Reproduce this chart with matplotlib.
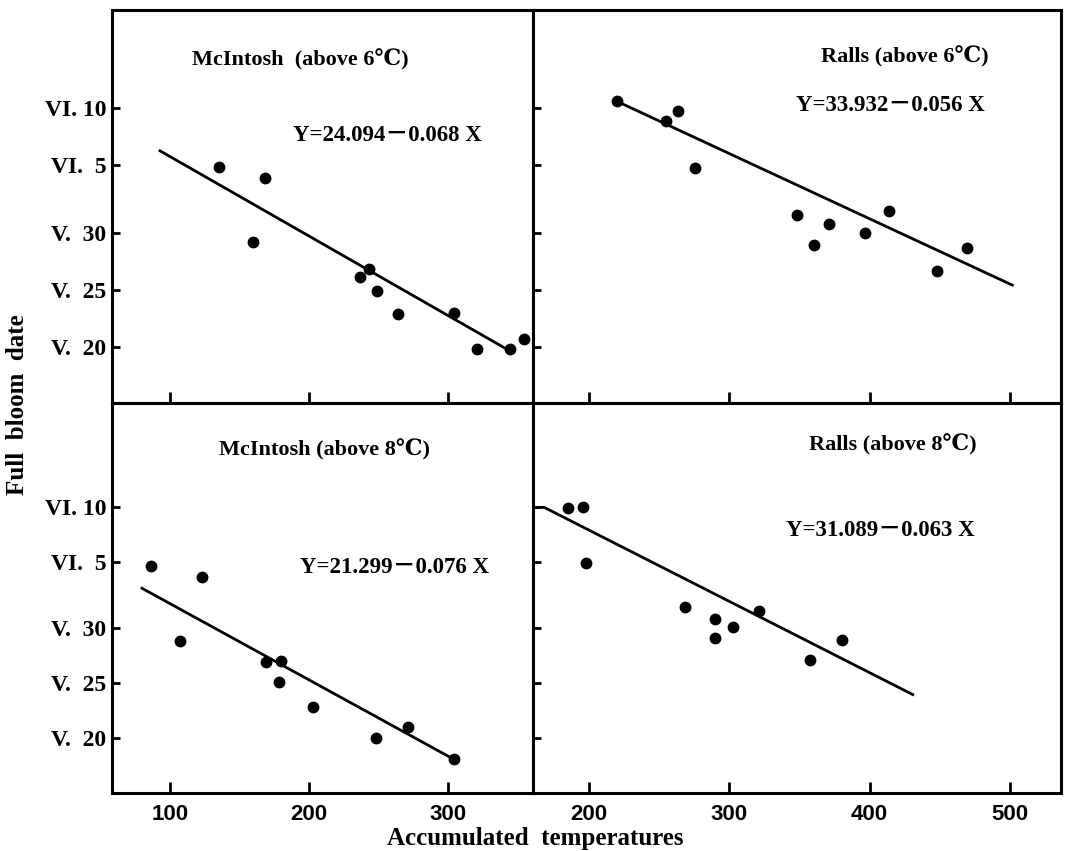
import matplotlib
matplotlib.use("Agg")
import matplotlib.pyplot as plt

# === Data (x: accumulated temperatures, y: day counted from May 1; VI.5 = 36) ===
mc6_x = [135, 168.5, 159.6, 236.5, 242.9, 248.8, 264.3, 304.4, 320.7, 344.3, 354.2]
mc6_y = [35.8, 34.85, 29.2, 26.2, 26.9, 24.9, 22.9, 23.0, 19.8, 19.8, 20.7]
mc6_line_x = [92, 344]
mc6_line_y = [37.3, 19.7]

ra6_x = [219.6, 255.1, 263.2, 275.5, 348.3, 360.5, 370.8, 396.6, 413.7, 448, 469.6]
ra6_y = [41.6, 39.9, 40.7, 35.7, 31.6, 29.0, 30.8, 30.0, 32.0, 26.7, 28.7]
ra6_line_x = [219.6, 502.7]
ra6_line_y = [41.6, 25.4]

mc8_x = [86.5, 123.4, 106.9, 169.4, 180, 178.7, 202.8, 247.8, 271, 304.2]
mc8_y = [35.7, 34.7, 28.8, 26.9, 27.0, 25.1, 22.8, 20.0, 21.0, 18.1]
mc8_line_x = [79, 305]
mc8_line_y = [33.7, 18.0]

ra8_x = [184.9, 195.9, 197.6, 268.3, 289.5, 289.8, 302.7, 321.5, 357.3, 380]
ra8_y = [40.95, 41.0, 35.9, 31.9, 30.8, 29.1, 30.1, 31.6, 27.1, 28.9]
ra8_line_x = [160, 168, 431.7]
ra8_line_y = [41.0, 41.0, 23.9]

titles = ["McIntosh  (above 6℃)", "Ralls (above 6℃)",
          "McIntosh (above 8℃)", "Ralls (above 8℃)"]
equations = ["Y=24.094－0.068 X", "Y=33.932－0.056 X",
             "Y=21.299－0.076 X", "Y=31.089－0.063 X"]

y_ticks = [20, 25, 30, 36, 41]
y_ticklabels = ["V.  20", "V.  25", "V.  30", "VI.  5", "VI. 10"]
left_xticks = [100, 200, 300]
right_xticks = [200, 300, 400, 500]

FONT = ["Liberation Serif", "DejaVu Serif", "Noto Sans CJK JP"]
plt.rcParams["font.family"] = FONT
plt.rcParams["font.weight"] = "bold"

fig = plt.figure(figsize=(10.66, 8.51), dpi=100)

# axes positions in figure fraction
pos = {
    "tl": [0.105, 0.5264, 0.395, 0.4618],
    "tr": [0.500, 0.5264, 0.4953, 0.4618],
    "bl": [0.105, 0.0682, 0.395, 0.4582],
    "br": [0.500, 0.0682, 0.4953, 0.4582],
}

panels = [
    ("tl", mc6_x, mc6_y, mc6_line_x, mc6_line_y, (58.3, 361), (15.1, 49.6), left_xticks, True, False),
    ("tr", ra6_x, ra6_y, ra6_line_x, ra6_line_y, (160, 536.5), (15.1, 49.6), right_xticks, False, False),
    ("bl", mc8_x, mc8_y, mc8_line_x, mc8_line_y, (58.3, 361), (15.0, 50.5), left_xticks, True, True),
    ("br", ra8_x, ra8_y, ra8_line_x, ra8_line_y, (160, 536.5), (15.0, 50.5), right_xticks, False, True),
]

title_pos = [(0.447, 0.873), (0.705, 0.880), (0.506, 0.879), (0.682, 0.892)]
eq_pos = [(0.655, 0.682), (0.676, 0.758), (0.672, 0.577), (0.657, 0.674)]

for i, (key, xs, ys, lx, ly, xlim, ylim, xt, show_y, show_x) in enumerate(panels):
    ax = fig.add_axes(pos[key])
    ax.plot(lx, ly, color="black", lw=2.0, solid_capstyle="butt")
    ax.plot(xs, ys, "o", color="black", ms=7.5)
    ax.set_xlim(*xlim)
    ax.set_ylim(*ylim)
    for s in ax.spines.values():
        s.set_linewidth(2.2)
    ax.set_xticks(xt)
    ax.set_yticks(y_ticks)
    ax.tick_params(axis="x", direction="in", length=8, width=2, pad=8)
    ax.tick_params(axis="y", direction="in", length=6, width=2, pad=4)
    if show_y:
        ax.set_yticklabels(y_ticklabels, fontsize=17, fontweight="bold")
    else:
        ax.set_yticklabels([])
    if show_x:
        ax.set_xticklabels([str(v) for v in xt], fontsize=16, fontweight="bold",
                           family=["Liberation Sans", "DejaVu Sans"])
    else:
        ax.set_xticklabels([])
    ax.text(*title_pos[i], titles[i], transform=ax.transAxes, ha="center", va="center",
            fontsize=16, fontweight="bold")
    ax.text(*eq_pos[i], equations[i], transform=ax.transAxes, ha="center", va="center",
            fontsize=16.5, fontweight="bold")

fig.text(0.016, 0.525, "Full  bloom  date", rotation=90, ha="center", va="center",
         fontsize=18, fontweight="bold")
fig.text(0.502, 0.015, "Accumulated  temperatures", ha="center", va="center",
         fontsize=18, fontweight="bold")

fig.savefig("out.png", dpi=100)
